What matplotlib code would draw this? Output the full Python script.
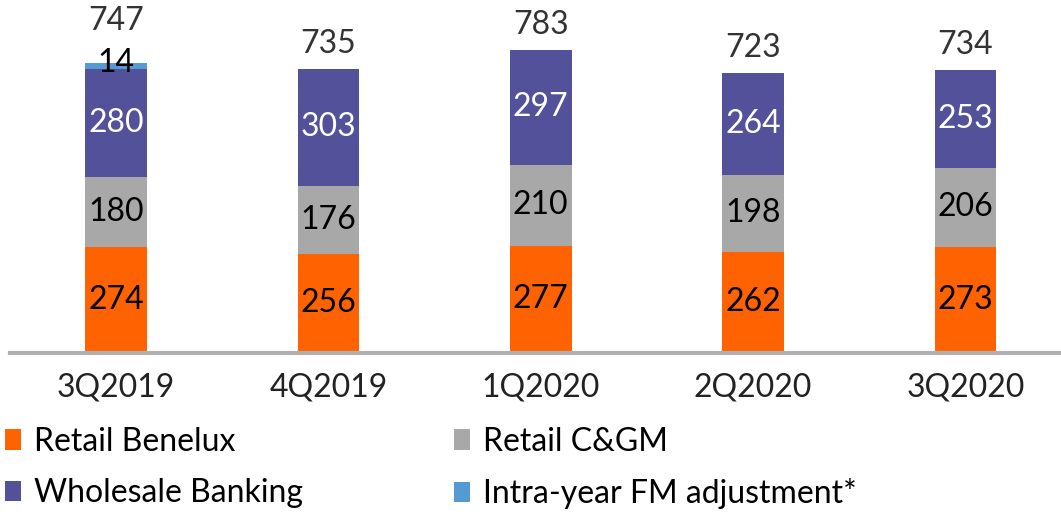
import matplotlib
matplotlib.use("Agg")
import matplotlib.pyplot as plt
from matplotlib.transforms import offset_copy

plt.rcParams['font.family'] = ['Lato', 'DejaVu Sans']

categories = ["3Q2019", "4Q2019", "1Q2020", "2Q2020", "3Q2020"]
retail_benelux = [274, 256, 277, 262, 273]
retail_cgm = [180, 176, 210, 198, 206]
wholesale = [280, 303, 297, 264, 253]
fm_adjustment = [14, 0, 0, 0, 0]
totals = [747, 735, 783, 723, 734]

series = [
    ("Retail Benelux", retail_benelux, "#FF6200", "black"),
    ("Retail C&GM", retail_cgm, "#A8A8A8", "black"),
    ("Wholesale Banking", wholesale, "#525199", "white"),
    ("Intra-year FM adjustment*", fm_adjustment, "#559BD3", "black"),
]

FS = 23

fig = plt.figure(figsize=(10.61, 5.14), dpi=100)
ax = fig.add_axes([10/1061, 161/514, 1 - 10/1061, 353/514])

x = list(range(len(categories)))
bottom = [0]*len(categories)
handles = []
for name, vals, color, tcol in series:
    bars = ax.bar(x, vals, bottom=bottom, width=0.29, color=color, label=name, zorder=2)
    handles.append(bars)
    for i, v in enumerate(vals):
        if v <= 0:
            continue
        if v < 30:
            ax.text(i, bottom[i] + v, f"{v}", ha="center", va="center",
                    fontsize=FS, color=tcol, zorder=3)
        else:
            ax.text(i, bottom[i] + v/2, f"{v}", ha="center", va="center",
                    fontsize=FS, color=tcol, zorder=3)
    bottom = [b + v for b, v in zip(bottom, vals)]

for i, t in enumerate(totals):
    off = 42 if fm_adjustment[i] > 0 else 25
    tr = offset_copy(ax.transData, fig=fig, x=0, y=off, units='dots')
    ax.text(i, bottom[i], f"{t}", ha="center", va="center", fontsize=FS,
            color="#333333", transform=tr)

ax.set_xlim(-0.5, 4.45)
ax.set_ylim(0, 912)
ax.set_xticks(x)
ax.set_xticklabels(categories, fontsize=FS, color="#222222")
ax.tick_params(axis='x', length=0, pad=14)
ax.set_yticks([])
for s in ["top", "right", "left"]:
    ax.spines[s].set_visible(False)
ax.spines["bottom"].set_color("#B0B0B0")
ax.spines["bottom"].set_linewidth(3)

# legend filled row-wise: reorder for column-major fill
order = [0, 2, 1, 3]
leg = fig.legend(handles=[handles[k] for k in order],
                 labels=[series[k][0] for k in order],
                 loc="upper left", bbox_to_anchor=(0.005, 0.17),
                 ncol=2, frameon=False, fontsize=FS, handlelength=0.5, handleheight=0.6,
                 handletextpad=0.4, columnspacing=4.72, labelspacing=0.68,
                 borderaxespad=0, borderpad=0)

fig.savefig("out.png", dpi=100)
